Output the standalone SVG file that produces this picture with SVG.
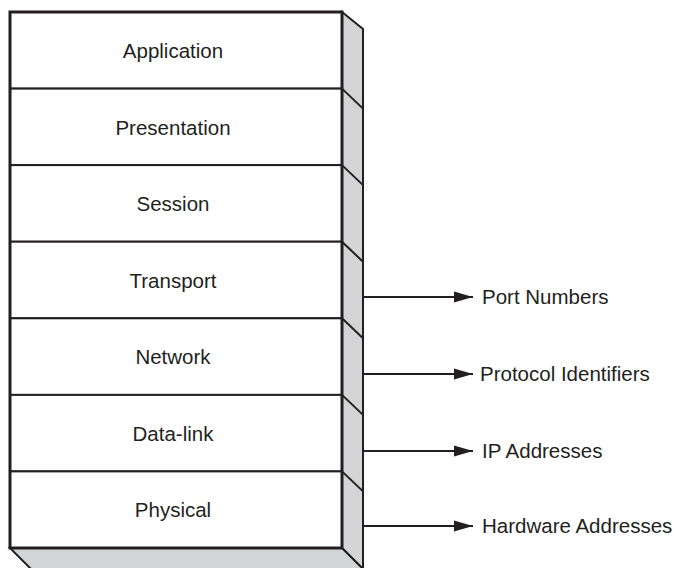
<svg xmlns="http://www.w3.org/2000/svg" width="674" height="568" viewBox="0 0 674 568">
  <defs>
    <style>
      .face { fill: #ffffff; stroke: #231f20; stroke-width: 2; }
      .side { fill: #d3d4d5; stroke: #231f20; stroke-width: 2; stroke-linejoin: miter; }
      .edge { fill: none; stroke: #231f20; stroke-width: 2; }
      .outer { fill: none; stroke: #231f20; stroke-width: 3; }
      .lbl { font-family: "Liberation Sans", Arial, sans-serif; font-size: 20.5px; fill: #231f20; text-anchor: middle; }
      .note { font-family: "Liberation Sans", Arial, sans-serif; font-size: 20.5px; fill: #231f20; }
      .conn { fill: none; stroke: #231f20; stroke-width: 2; marker-end: url(#arrow); }
    </style>
    <marker id="arrow" markerWidth="22" markerHeight="14" refX="19" refY="6" orient="auto" markerUnits="userSpaceOnUse">
      <path d="M0,0.5 L19,6 L0,11.5 Z" fill="#231f20"/>
    </marker>
  </defs>

  <!-- 3D side and bottom faces -->
  <g id="stack-sides">
    <polygon class="side" points="342,12 363,29 363,569 342,548"/>
    <polygon class="side" points="10,548 342,548 363,569 31,569"/>
    <line class="edge" x1="342" y1="88.6" x2="363" y2="108.6"/>
    <line class="edge" x1="342" y1="165.1" x2="363" y2="185.1"/>
    <line class="edge" x1="342" y1="241.7" x2="363" y2="261.7"/>
    <line class="edge" x1="342" y1="318.3" x2="363" y2="338.3"/>
    <line class="edge" x1="342" y1="394.9" x2="363" y2="414.9"/>
    <line class="edge" x1="342" y1="471.4" x2="363" y2="491.4"/>
  </g>

  <g id="application">
    <rect class="face" x="10" y="12" width="332" height="76.6"/>
    <text class="lbl" x="173" y="58">Application</text>
  </g>
  <g id="presentation">
    <rect class="face" x="10" y="88.6" width="332" height="76.5"/>
    <text class="lbl" x="173" y="134.5">Presentation</text>
  </g>
  <g id="session">
    <rect class="face" x="10" y="165.1" width="332" height="76.6"/>
    <text class="lbl" x="173" y="211">Session</text>
  </g>
  <g id="transport">
    <rect class="face" x="10" y="241.7" width="332" height="76.6"/>
    <text class="lbl" x="173" y="287.5">Transport</text>
  </g>
  <g id="network">
    <rect class="face" x="10" y="318.3" width="332" height="76.6"/>
    <text class="lbl" x="173" y="364">Network</text>
  </g>
  <g id="data-link">
    <rect class="face" x="10" y="394.9" width="332" height="76.5"/>
    <text class="lbl" x="173" y="440.5">Data-link</text>
  </g>
  <g id="physical">
    <rect class="face" x="10" y="471.4" width="332" height="76.6"/>
    <text class="lbl" x="173" y="517">Physical</text>
  </g>

  <rect id="stack-outline" class="outer" x="10" y="12" width="332" height="536"/>

  <g id="connectors">
    <line class="conn" x1="363" y1="297" x2="473" y2="297"/>
    <line class="conn" x1="363" y1="374" x2="473" y2="374"/>
    <line class="conn" x1="363" y1="451" x2="473" y2="451"/>
    <line class="conn" x1="363" y1="526" x2="473" y2="526"/>
  </g>

  <g id="port-numbers"><text class="note" x="482" y="303.5">Port Numbers</text></g>
  <g id="protocol-identifiers"><text class="note" x="480" y="380.5">Protocol Identifiers</text></g>
  <g id="ip-addresses"><text class="note" x="482" y="457.5">IP Addresses</text></g>
  <g id="hardware-addresses"><text class="note" x="482" y="532.5">Hardware Addresses</text></g>
</svg>
